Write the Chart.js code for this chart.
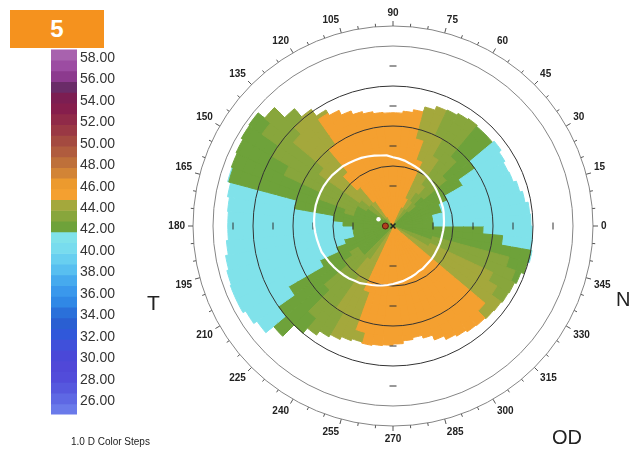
<!DOCTYPE html>
<html>
<head>
<meta charset="utf-8">
<script src="https://cdn.jsdelivr.net/npm/chart.js@4.4.1/dist/chart.umd.min.js"></script>
<style>
  body { margin: 0; background: #fff; }
  #page { position: relative; width: 633px; height: 451px; overflow: hidden; background: #fff;
          font-family: "Liberation Sans", Arial, sans-serif; }
  canvas { position: absolute; }
  .txt { position: absolute; color: #222; line-height: 1; white-space: nowrap; }
  #badge { position: absolute; left: 10px; top: 10px; width: 94px; height: 38px; background: #f5921e;
           color: #fff; font-weight: bold; font-size: 24px; line-height: 38px; text-align: center; }
</style>
</head>
<body>
<div id="page">
  <div id="badge">5</div>
  <canvas id="bar" width="70" height="388" style="left:51px;top:38px;width:70px;height:388px"></canvas>
  <canvas id="map" width="480" height="436" style="left:153px;top:8px;width:480px;height:436px"></canvas>
  <canvas id="grid" width="480" height="436" style="left:153px;top:8px;width:480px;height:436px"></canvas>
  <div class="txt" style="left:147px;top:292px;font-size:21px">T</div>
  <div class="txt" style="left:616px;top:289px;font-size:20px">N</div>
  <div class="txt" style="left:552px;top:427px;font-size:20px">OD</div>
  <div class="txt" style="left:71px;top:437px;font-size:10px">1.0 D Color Steps</div>
</div>
<script>
var FONT = '"Liberation Sans", Arial, sans-serif';
Chart.defaults.font.family = FONT;

// colour scale (diopters), top to bottom
var legendSteps = [58, 57, 56, 55, 54, 53, 52, 51, 50, 49, 48, 47, 46, 45, 44, 43, 42,
  41, 40, 39, 38, 37, 36, 35, 34, 33, 32, 31, 30, 29, 28, 27, 26, 25];
var legendColors = ["#a862ae", "#9c4ca2", "#8c3a8e", "#6a2c68", "#7c1e52", "#861e4c", "#902a48",
  "#9a3844", "#a44a40", "#b05c3e", "#be703a", "#d28436", "#ec9a2e", "#f4a030", "#a4a83c",
  "#88a63c", "#6ea23a", "#80e2ea", "#78dcee", "#68cff0", "#58bff0", "#46aaee", "#3a98ec",
  "#3088e6", "#2a70da", "#2a5fd2", "#3058da", "#4050da", "#4a48d8", "#5048d8", "#524cda",
  "#5658de", "#5e68e4", "#6a7aea"];
var legendTicks = [26, 28, 30, 32, 34, 36, 38, 40, 42, 44, 46, 48, 50, 52, 54, 56, 58];

// polar grid (mm)
var labeledDegrees = [0, 15, 30, 45, 60, 75, 90, 105, 120, 135, 150, 165, 180, 195, 210, 225,
  240, 255, 270, 285, 300, 315, 330, 345];
var gridRings = [0, 1.5, 2.5, 3.5, 4.5, 5.0];
var axisTicks = [1, 2, 3, 4];
var axisDegrees = [0, 90, 180, 270];

// map: 5 degree sectors counter-clockwise from 0, rings of 0.25 mm
var ringEdges = [0.25, 0.5, 0.75, 1.0, 1.25, 1.5, 1.75, 2.0, 2.25, 2.5, 2.75, 3.0,
  3.25, 3.5, 3.75, 4.0, 4.25, 4.5];
var mapEdge = [3.45, 3.43, 3.35, 3.28, 3.20, 3.18, 3.23, 3.30, 3.25, 3.25, 3.28, 3.25,
  3.20, 3.18, 3.08, 2.95, 2.88, 2.83, 2.83, 2.85, 2.90, 2.96, 3.06, 3.19,
  3.35, 3.56, 3.83, 4.19, 4.40, 4.38, 4.33, 4.30, 4.28, 4.20, 4.15, 4.13,
  4.13, 4.18, 4.25, 4.30, 4.33, 4.33, 4.25, 4.15, 3.90, 3.50, 3.33, 3.20,
  3.13, 3.05, 3.00, 3.03, 3.00, 2.98, 2.95, 2.88, 2.83, 2.90, 3.03, 3.13,
  3.18, 3.23, 3.25, 3.28, 3.30, 3.33, 3.35, 3.40, 3.48, 3.53, 3.50, 3.48];
var _ = null;
var ringA = [42,42,42,42,42,42,42,42,42,43,43,44, 44,45,45,45,45,45,45,45,45,45,45,45,
  44,44,43,43,42,42,42,42,42,42,42,42, 42,42,42,42,42,42,42,42,42,43,43,44,
  44,45,45,45,45,45,45,45,45,45,45,45, 45,45,45,45,44,44,43,43,42,42,42,42];
var ringB = [42,42,42,42,42,42,42,42,42,43,43,44, 44,45,45,45,45,45,45,45,45,45,45,45,
  45,44,44,43,43,42,42,42,42,42,42,42, 42,42,42,42,42,42,42,42,42,43,43,44,
  44,45,45,45,45,45,45,45,45,45,45,45, 45,45,45,45,44,44,43,43,42,42,42,42];
var ringC = [42,42,42,42,42,42,42,42,43,43,44,44, 45,45,45,45,45,45,45,45,45,45,45,45,
  45,44,44,43,43,42,42,42,42,42,42,42, 42,42,42,42,42,42,42,42,42,43,43,44,
  44,45,45,45,45,45,45,45,45,45,45,45, 45,45,45,45,44,44,43,43,42,42,42,42];
var ringD = [42,42,42,42,42,42,42,42,42,43,43,44, 44,45,45,45,45,45,45,45,45,45,45,45,
  45,45,44,44,43,43,42,42,42,42,42,42, 42,42,42,42,42,42,42,42,42,43,43,44,
  44,45,45,45,45,45,45,45,45,45,45,45, 45,45,45,45,44,44,43,43,42,42,42,42];
var ringE = [41,41,41,42,42,42,42,42,43,43,44,44, 44,45,45,45,45,45,45,45,45,45,45,45,
  45,45,44,44,44,43,43,43,43,42,42,42, 41,41,41,42,42,42,43,43,43,43,44,44,
  44,45,45,45,45,45,45,45,45,45,45,45, 45,45,45,45,44,44,44,43,43,42,42,42];
var ringF = [41,41,41,41,41,42,42,42,43,43,43,44, 44,45,45,45,45,45,45,45,45,45,45,45,
  45,45,45,44,44,43,43,43,42,42,42,41, 41,41,41,41,42,42,42,43,43,43,44,44,
  44,45,45,45,45,45,45,45,45,45,45,45, 45,45,45,45,44,44,44,43,43,42,42,42];
var ringG = [41,41,41,41,41,41,42,42,43,43,43,44, 44,45,45,45,45,45,45,45,45,45,45,45,
  45,45,45,44,44,43,43,43,42,42,41,41, 41,41,41,41,41,42,42,42,43,43,43,44,
  44,45,45,45,45,45,45,45,45,45,45,45, 45,45,45,45,44,44,44,43,43,42,42,42];
var ringH = [41,41,41,41,41,41,42,42,42,43,43,44, 44,44,45,45,45,45,45,45,45,45,45,45,
  45,45,44,44,44,43,43,43,42,42,41,41, 41,41,41,41,41,42,42,42,43,43,43,44,
  44,44,45,45,45,45,45,45,45,45,45,45, 45,45,45,45,44,44,44,43,43,42,42,42];
var ringI = [41,41,41,41,41,41,41,42,42,43,43,43, 44,44,45,45,45,45,45,45,45,45,45,45,
  45,45,44,44,44,43,43,42,42,42,41,41, 41,41,41,41,41,41,42,42,43,43,43,44,
  44,44,45,45,45,45,45,45,45,45,45,45, 45,45,45,45,44,44,44,43,43,42,42,42];
var ringJ = [41,41,41,41,41,41,41,42,42,42,43,43, 44,44,44,45,45,45,45,45,45,45,45,45,
  45,45,44,44,43,43,43,42,42,42,41,41, 41,41,41,41,41,41,42,42,42,43,43,44,
  44,44,45,45,45,45,45,45,45,45,45,45, 45,45,45,45,44,44,44,43,43,42,42,41];
var ringK = [41,41,41,41,41,41,41,41,42,42,43,43, 43,44,44,45,45,45,45,45,45,45,45,45,
  45,44,44,44,43,43,43,42,42,41,41,41, 41,41,41,41,41,41,42,42,42,43,43,43,
  44,44,45,45,45,45,45,45,45,45,45,45, 45,45,45,45,44,44,44,43,43,42,42,41];
var ringL = [41,41,41,41,41,41,41,41,42,42,43,43, 43,44,44,45,45,45,45,45,45,45,45,45,
  45,44,44,44,43,43,43,42,42,41,41,41, 41,41,41,41,41,41,42,42,42,43,43,43,
  44,44,44,45,45,45,45,45,45,45,45,45, 45,45,45,45,44,44,43,43,43,42,41,41];
var ringM = [41,41,41,41,41,41,41,41,42,42,43,43, 43,44,44,45,45,45,45,45,45,45,45,45,
  45,44,44,44,43,43,42,42,42,41,41,41, 41,41,41,41,41,41,41,42,42,42,43,43,
  44,44,44,45,45,45,45,45,45,45,45,45, 45,45,45,44,44,43,43,43,42,42,41,41];
var ringN = [41,41,41,41,41,41,41,41,42,42,43,43, 43,44,44,45,45,45,45,45,45,45,45,45,
  44,44,44,43,43,43,42,42,42,41,41,41, 41,41,41,41,41,41,41,42,42,42,43,43,
  44,44,44,45,45,45,45,45,45,45,45,45, 45,45,44,44,44,43,43,42,42,42,41,41];
var ringO = [_,_,_,_,_,_,_,_,_,_,_,_, _,_,_,_,_,_,_,_,_,_,_,_,
  44,44,43,43,43,42,42,42,42,41,41,41, 41,41,41,41,41,41,41,41,42,42,42,_,
  _,_,_,_,_,_,_,_,_,_,_,_, _,_,_,_,_,_,_,_,42,41,41,_];
var ringP = [_,_,_,_,_,_,_,_,_,_,_,_, _,_,_,_,_,_,_,_,_,_,_,_,
  _,_,43,43,43,42,42,42,42,41,41,41, 41,41,41,41,41,41,41,41,42,_,_,_,
  _,_,_,_,_,_,_,_,_,_,_,_, _,_,_,_,_,_,_,_,_,_,_,_];
var ringQ = [_,_,_,_,_,_,_,_,_,_,_,_, _,_,_,_,_,_,_,_,_,_,_,_,
  _,_,_,43,42,42,42,42,42,41,41,41, 41,41,41,41,41,41,41,41,_,_,_,_,
  _,_,_,_,_,_,_,_,_,_,_,_, _,_,_,_,_,_,_,_,_,_,_,_];
var ringR = [_,_,_,_,_,_,_,_,_,_,_,_, _,_,_,_,_,_,_,_,_,_,_,_,
  _,_,_,_,42,42,42,42,41,41,41,41, 41,41,41,41,41,41,41,41,_,_,_,_,
  _,_,_,_,_,_,_,_,_,_,_,_, _,_,_,_,_,_,_,_,_,_,_,_];
var rings = [ringA, ringB, ringC, ringD, ringE, ringF, ringG, ringH, ringI,
  ringJ, ringK, ringL, ringM, ringN, ringO, ringP, ringQ, ringR];

// pupil outline radius (mm), counter-clockwise from 0 in 5 degree steps
var pupilEdge = [1.27, 1.28, 1.29, 1.31, 1.33, 1.34, 1.36, 1.38, 1.41, 1.44, 1.47, 1.50,
  1.53, 1.56, 1.59, 1.62, 1.66, 1.69, 1.72, 1.77, 1.79, 1.82, 1.85, 1.88,
  1.90, 1.92, 1.95, 1.96, 1.98, 1.99, 2.00, 2.00, 2.00, 2.00, 1.99, 1.98,
  1.97, 1.95, 1.93, 1.91, 1.90, 1.86, 1.83, 1.80, 1.77, 1.74, 1.71, 1.67,
  1.65, 1.60, 1.57, 1.54, 1.51, 1.48, 1.45, 1.42, 1.40, 1.37, 1.35, 1.33,
  1.30, 1.30, 1.28, 1.27, 1.27, 1.26, 1.25, 1.25, 1.25, 1.25, 1.25, 1.26];
// center marks: pupil center, red dot, map center
var markDegrees = [155, 180, 0];
var markRadii = [0.40, 0.19, 0];

function colorOf(v) {
  return legendColors[legendSteps.indexOf(v)];
}
function idxOf(deg) {
  return ((360 - deg) % 360) / 5;
}

// ---- colour bar ----
var barChart = new Chart(document.getElementById("bar"), {
  type: "bar",
  data: {
    labels: ["D"],
    datasets: legendSteps.map(function (v, i) {
      return {
        data: [[v - 0.5, v + 0.5]],
        backgroundColor: legendColors[i],
        borderWidth: 0,
        grouped: false,
        barPercentage: 1,
        categoryPercentage: 1,
      };
    }),
  },
  options: {
    responsive: false,
    animation: false,
    layout: { padding: { top: 10, bottom: 10, left: 0, right: 0 } },
    plugins: { legend: { display: false }, tooltip: { enabled: false } },
    scales: {
      x: { display: false },
      y: {
        position: "right",
        min: 24.5,
        max: 58.5,
        grid: { display: false, drawTicks: false },
        border: { display: false },
        afterBuildTicks: function (s) {
          s.ticks = legendTicks.map(function (v) { return { value: v }; });
        },
        afterFit: function (s) { s.width = 44; },
        ticks: {
          padding: 3,
          labelOffset: 3,
          color: "#333",
          font: { size: 14, family: FONT },
          callback: function (v) { return Number(v).toFixed(2); },
        },
      },
    },
  },
});

// ---- shared radial geometry ----
var angleLabels = [];
for (var i = 0; i < 72; i++) {
  var deg = (360 - i * 5) % 360;
  angleLabels.push(labeledDegrees.indexOf(deg) >= 0 ? String(deg) : "");
}
function radialScale(visible) {
  return {
    min: 0,
    max: 5.2,
    startAngle: 90,
    ticks: { display: false },
    afterBuildTicks: function (s) {
      s.ticks = gridRings.map(function (v) { return { value: v }; });
    },
    grid: {
      display: visible,
      circular: true,
      lineWidth: 1,
      color: function (c) { return c.tick && c.tick.value >= 4.5 ? "#858585" : "#333"; },
    },
    angleLines: {
      display: visible,
      color: "#555",
      lineWidth: 1,
      borderDash: function (c) {
        var d = c.chart.scales.r.getDistanceFromCenterForValue(5.0);
        return [0, d, c.index % 3 === 0 ? 5 : 3, 400];
      },
    },
    pointLabels: {
      display: true,
      padding: 0,
      color: visible ? "#222" : "rgba(0,0,0,0)",
      font: { family: FONT, size: 10, weight: "bold", lineHeight: 1 },
    },
  };
}

// ---- topography map ----
var mapSets = rings.map(function (ring, j) {
  var inner = j ? ringEdges[j - 1] : 0;
  var radii = [], colors = [];
  for (var i = 0; i < 72; i++) {
    var k = 71 - i;
    var r = Math.min(ringEdges[j], mapEdge[k]);
    var v = ring[k];
    radii.push(r);
    colors.push(v === null || mapEdge[k] <= inner ? "rgba(0,0,0,0)" : colorOf(v));
  }
  return { data: radii, backgroundColor: colors, borderColor: colors, borderWidth: 1 };
});
var mapChart = new Chart(document.getElementById("map"), {
  type: "polarArea",
  data: { labels: angleLabels, datasets: mapSets },
  options: {
    responsive: false,
    animation: false,
    plugins: { legend: { display: false }, tooltip: { enabled: false } },
    scales: { r: radialScale(false) },
  },
});

// ---- rings, degree labels, pupil and marks ----
var pupilData = [];
for (var i = 0; i < 72; i++) pupilData.push(pupilEdge[(72 - i) % 72]);
var overlaySets = [{
  data: pupilData,
  borderColor: "#ffffff",
  borderWidth: 2.2,
  pointRadius: 0,
  fill: false,
}];
axisTicks.forEach(function (t) {
  var d = new Array(72).fill(null);
  axisDegrees.forEach(function (deg) { d[idxOf(deg)] = t; });
  overlaySets.push({
    data: d,
    showLine: false,
    fill: false,
    pointStyle: "line",
    pointRadius: 3.5,
    pointBorderColor: "#333",
    pointBorderWidth: 1,
    pointRotation: function (c) {
      var deg = (360 - c.index * 5) % 360;
      return deg === 0 || deg === 180 ? 90 : 0;
    },
  });
});
var markStyles = [
  { pointStyle: "circle", pointRadius: 2.2, pointBackgroundColor: "#fff", pointBorderColor: "#fff", pointBorderWidth: 0 },
  { pointStyle: "circle", pointRadius: 3, pointBackgroundColor: "#b0401e", pointBorderColor: "#5a1a10", pointBorderWidth: 1 },
  { pointStyle: "crossRot", pointRadius: 3.5, pointBackgroundColor: "#222", pointBorderColor: "#222", pointBorderWidth: 1.5 },
];
markDegrees.forEach(function (deg, m) {
  var d = new Array(72).fill(null);
  d[idxOf(deg)] = markRadii[m];
  overlaySets.push(Object.assign({ data: d, showLine: false, fill: false }, markStyles[m]));
});
var gridChart = new Chart(document.getElementById("grid"), {
  type: "radar",
  data: { labels: angleLabels, datasets: overlaySets },
  options: {
    responsive: false,
    animation: false,
    plugins: { legend: { display: false }, tooltip: { enabled: false } },
    scales: { r: radialScale(true) },
  },
});
</script>
</body>
</html>
